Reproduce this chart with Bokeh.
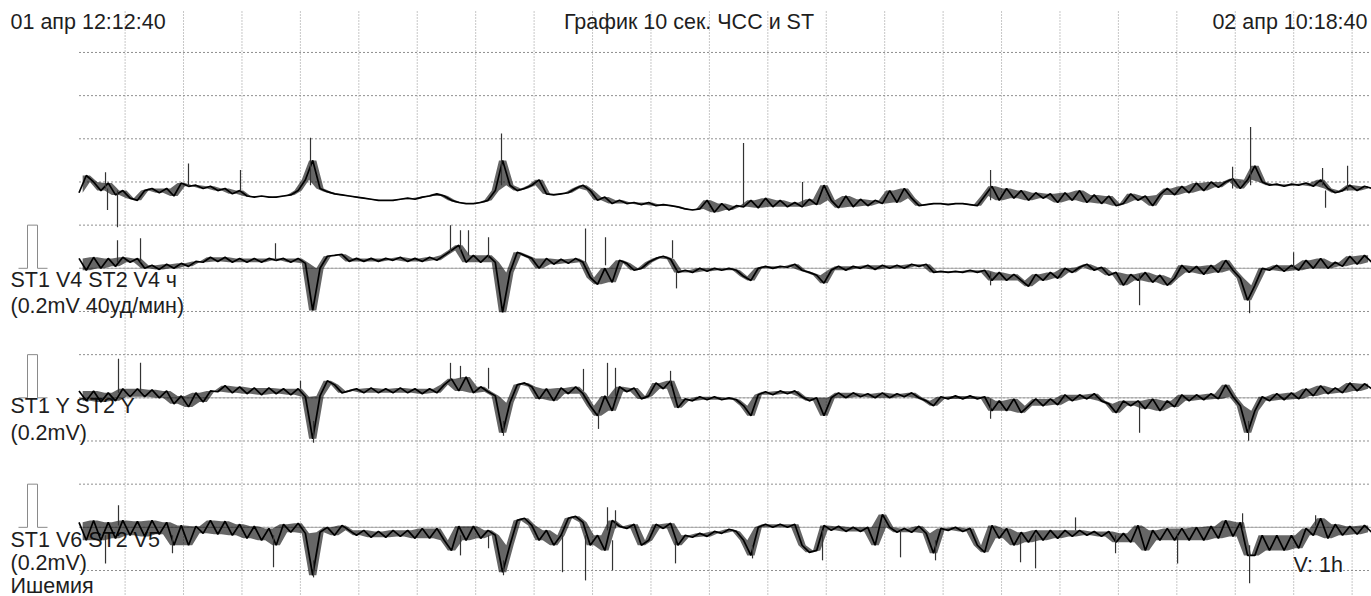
import numpy as np
from bokeh.plotting import figure
from bokeh.models import Range1d
from bokeh.embed import file_html
from bokeh.resources import INLINE
from bokeh.core.properties import value

# ---------------- data ----------------
START_LABEL = "01 апр 12:12:40"
END_LABEL = "02 апр 10:18:40"
TITLE = "График 10 сек. ЧСС и ST"
ROW_LABELS = ["ST1 V4 ST2 V4 ч", "(0.2mV 40уд/мин)", "ST1 Y ST2 Y", "(0.2mV)",
              "ST1 V6 ST2 V5", "(0.2mV)", "Ишемия"]
SCALE_LABEL = "V: 1h"

STEP_H = 0.125                 # one sample every 7.5 min
FIRST_HOUR_MARK_H = 47.333 / 60  # 13:00 measured from 12:12:40
N_HOUR_MARKS = 22
HR_PER_DIV = 40.0              # уд/мин per division
MV_PER_DIV = 0.2               # mV per division
CAL_MV = 0.2

hr_bpm = [
    70, 86, 80, 72, 79, 68, 72, 65, 63, 72,
    74, 70, 74, 67, 79, 76, 77, 74, 76, 72,
    74, 69, 72, 67, 66, 67, 66, 66, 67, 68,
    72, 82, 100, 74, 71, 69, 68, 67, 66, 65,
    64, 63, 63, 63, 64, 65, 64, 66, 67, 69,
    67, 63, 61, 60, 60, 61, 63, 72, 100, 77,
    72, 74, 77, 82, 69, 68, 69, 70, 74, 77,
    72, 63, 66, 60, 63, 60, 61, 59, 61, 58,
    59, 58, 57, 55, 54, 55, 63, 52, 60, 54,
    58, 57, 63, 56, 65, 57, 63, 57, 61, 57,
    64, 59, 77, 63, 56, 67, 57, 64, 58, 63,
    60, 72, 61, 74, 65, 58, 59, 60, 60, 59,
    60, 60, 59, 58, 67, 76, 63, 74, 65, 72,
    63, 70, 65, 69, 61, 70, 63, 72, 61, 68,
    60, 67, 58, 60, 69, 63, 67, 58, 68, 74,
    68, 76, 70, 79, 72, 80, 75, 80, 83, 74,
    82, 95, 80, 77, 78, 76, 78, 77, 79, 76,
    82, 74, 70, 72, 77, 72, 76, 74]

st1_mv = [
    0.046, -0.009, 0.051, 0.0, 0.046, 0.009, 0.051, 0.028, 0.046, 0.0,
    0.014, -0.005, 0.019, 0.0, 0.023, 0.009, 0.032, 0.028, 0.051, 0.032,
    0.051, 0.028, 0.046, 0.028, 0.046, 0.028, 0.046, 0.037, 0.046, 0.028,
    0.046, 0.023, -0.195, 0.0, 0.056, 0.060, 0.065, 0.032, 0.046, 0.032,
    0.046, 0.032, 0.046, 0.037, 0.051, 0.032, 0.046, 0.032, 0.051, 0.037,
    0.060, 0.083, 0.107, 0.028, 0.060, 0.028, 0.060, 0.028, -0.204, -0.019,
    0.074, 0.060, 0.046, 0.0, 0.046, 0.019, 0.042, 0.023, 0.046, 0.028,
    -0.042, -0.074, 0.0, -0.065, 0.037, 0.023, -0.009, 0.0, 0.028, 0.046,
    0.056, 0.042, -0.019, -0.009, -0.019, 0.0, -0.014, 0.0, -0.009, 0.0,
    -0.009, -0.037, -0.056, 0.0, 0.009, 0.0, 0.009, 0.005, 0.019, -0.009,
    -0.019, -0.032, -0.069, -0.009, 0.009, -0.009, 0.009, 0.0, 0.014, -0.005,
    0.014, 0.0, 0.014, 0.0, 0.019, 0.009, 0.019, -0.019, -0.014, -0.019,
    -0.014, -0.019, -0.009, -0.019, -0.009, -0.056, -0.019, -0.056, -0.028, -0.056,
    -0.083, -0.028, -0.056, -0.019, -0.046, 0.0, -0.019, 0.005, 0.019, -0.009,
    0.005, -0.032, -0.019, -0.079, -0.028, -0.056, -0.019, -0.065, -0.032, -0.079,
    -0.046, 0.014, -0.019, 0.009, -0.028, 0.014, -0.019, 0.037, -0.009, -0.046,
    -0.148, -0.079, 0.0, -0.009, 0.014, -0.014, 0.014, -0.009, 0.037, 0.0,
    0.046, 0.0, 0.028, 0.009, 0.056, 0.019, 0.060, 0.028]

st2_mv = [
    0.032, -0.014, 0.032, -0.019, 0.023, -0.014, 0.042, 0.005, 0.042, 0.005,
    0.037, 0.0, 0.032, -0.028, 0.009, -0.042, 0.023, -0.019, 0.032, 0.028,
    0.056, 0.023, 0.051, 0.019, 0.046, 0.014, 0.046, 0.019, 0.042, 0.014,
    0.042, 0.005, -0.190, 0.009, 0.079, 0.060, 0.023, 0.032, 0.042, 0.023,
    0.046, 0.023, 0.042, 0.023, 0.046, 0.023, 0.042, 0.019, 0.042, 0.023,
    0.060, 0.088, 0.032, 0.097, 0.023, 0.051, 0.028, 0.009, -0.162, -0.023,
    0.060, 0.069, 0.051, -0.005, 0.042, -0.014, 0.046, 0.019, 0.051, 0.019,
    -0.037, -0.083, 0.009, -0.060, 0.051, 0.028, 0.046, -0.005, 0.009, 0.069,
    0.042, 0.079, -0.046, -0.005, -0.014, 0.005, -0.009, 0.005, -0.009, 0.0,
    -0.009, -0.037, -0.083, 0.014, 0.028, 0.014, 0.032, 0.019, 0.032, 0.005,
    -0.014, 0.0, -0.083, 0.0, 0.023, 0.0, 0.023, 0.005, 0.019, 0.0,
    0.023, 0.0, 0.019, 0.005, 0.023, 0.0, -0.014, -0.037, 0.005, -0.005,
    0.009, -0.005, 0.009, -0.005, 0.005, -0.060, -0.014, -0.060, -0.005, -0.069,
    -0.037, -0.005, -0.037, -0.005, -0.032, 0.014, -0.014, 0.014, -0.005, 0.019,
    -0.014, -0.028, -0.069, -0.014, -0.037, -0.014, -0.051, -0.005, -0.060, -0.014,
    -0.042, 0.014, -0.014, 0.014, -0.009, 0.019, -0.005, 0.060, 0.005, -0.037,
    -0.162, -0.060, 0.005, -0.014, 0.019, -0.009, 0.023, -0.005, 0.042, 0.009,
    0.056, 0.019, 0.046, 0.023, 0.069, 0.032, 0.065, 0.042]

st3_mv = [
    0.023, -0.060, 0.032, -0.060, 0.023, -0.051, 0.032, -0.037, 0.028, -0.042,
    0.032, -0.032, 0.023, -0.083, 0.009, -0.083, 0.005, -0.028, 0.032, -0.032,
    0.028, -0.037, 0.014, -0.051, 0.005, -0.060, -0.005, -0.083, 0.014, -0.023,
    0.019, -0.028, -0.222, -0.023, 0.0, -0.037, 0.009, -0.014, -0.037, -0.014,
    -0.046, -0.019, -0.046, -0.014, -0.042, -0.014, -0.051, -0.005, -0.051, -0.005,
    -0.060, -0.107, 0.005, -0.060, 0.005, -0.051, -0.014, -0.037, -0.208, -0.083,
    0.032, 0.042, 0.009, -0.060, -0.014, -0.083, -0.037, 0.042, 0.051, 0.023,
    -0.083, -0.037, -0.107, 0.032, 0.005, -0.005, 0.014, -0.083, -0.060, 0.014,
    -0.005, 0.019, -0.083, -0.037, -0.046, -0.028, -0.042, -0.019, -0.028, -0.009,
    -0.019, -0.060, -0.130, 0.0, 0.014, 0.0, 0.014, 0.0, 0.014, -0.083,
    -0.116, -0.107, 0.009, -0.014, 0.005, -0.019, 0.0, -0.019, 0.0, -0.083,
    0.060, 0.0, -0.023, -0.005, -0.023, 0.005, -0.028, -0.120, -0.005, -0.014,
    0.0, -0.019, -0.005, -0.083, -0.116, 0.009, -0.051, -0.005, -0.083, -0.023,
    -0.069, -0.014, -0.060, -0.014, -0.051, -0.014, -0.042, -0.014, -0.037, -0.019,
    -0.042, -0.019, -0.069, -0.028, -0.069, 0.009, -0.107, -0.014, -0.060, -0.005,
    -0.060, -0.005, -0.060, 0.0, -0.060, 0.005, -0.051, 0.032, -0.042, 0.023,
    -0.130, -0.130, -0.037, -0.107, -0.037, -0.107, -0.037, -0.097, -0.005, -0.037,
    0.042, -0.051, 0.014, -0.037, 0.005, -0.032, 0.009, -0.023]

# short spikes (hours since start, value at trace, extreme value)
hr_spike_t = [0.454, 0.488, 0.659, 1.874, 2.764, 3.962, 7.231, 11.373, 12.383,
              15.601, 19.743, 20.051, 21.283, 21.334, 21.711]
hr_spike_base = [74, 74, 72, 76, 72, 77, 77, 58, 58, 63, 74, 77, 77, 72, 72]
hr_spike_tip = [89, 54, 38, 97, 91, 121, 125, 116, 80, 91, 94, 131, 93, 56, 95]

st1_spike_t = [0.659, 1.053, 3.363, 6.358, 6.529, 6.666, 7.009, 8.669, 9.011,
               10.158, 10.226, 15.601, 18.151, 20.034, 20.787]
st1_spike_base = [0.028, 0.028, 0.037, 0.074, 0.083, 0.060, 0.046, 0.028, 0.014,
                  0.046, -0.009, -0.019, -0.028, -0.148, 0.0]
st1_spike_tip = [0.130, 0.139, 0.116, 0.199, 0.176, 0.176, 0.144, 0.185, 0.144,
                 0.130, -0.093, -0.079, -0.171, -0.208, 0.074]

st2_spike_t = [0.676, 1.053, 3.791, 4.014, 6.358, 6.529, 7.009, 7.265, 8.634,
               8.891, 9.045, 9.182, 10.124, 15.601, 18.151, 20.017]
st2_spike_base = [0.023, 0.032, 0.042, -0.107, 0.079, 0.088, 0.042, -0.107, 0.032,
                  -0.060, 0.009, 0.009, 0.056, -0.005, -0.028, -0.107]
st2_spike_tip = [0.181, 0.162, 0.079, -0.208, 0.162, 0.148, 0.139, -0.176, 0.134,
                 -0.144, 0.162, 0.139, 0.125, -0.097, -0.162, -0.199]

st3_spike_t = [0.454, 0.676, 1.600, 3.329, 4.014, 6.529, 7.009, 7.265, 8.275,
               8.669, 9.045, 9.131, 9.182, 10.209, 11.527, 12.725, 14.060,
               14.659, 16.114, 16.371, 17.055, 17.740, 18.802, 19.914, 20.034,
               21.164]
st3_spike_base = [-0.037, 0.009, -0.037, -0.037, -0.153, -0.037, -0.037, -0.153,
                  -0.037, -0.037, -0.014, -0.060, -0.005, -0.060, -0.083, -0.014,
                  -0.014, -0.060, -0.037, -0.037, -0.014, -0.037, -0.037, -0.014,
                  -0.083, 0.009]
st3_spike_tip = [-0.167, 0.102, -0.120, -0.185, -0.232, -0.130, -0.097, -0.222,
                 -0.208, -0.246, 0.093, -0.199, 0.079, -0.167, -0.144, -0.153,
                 -0.139, -0.153, -0.162, -0.190, 0.046, -0.120, -0.167, 0.065,
                 -0.259, 0.056]

# ---------------- layout ----------------
PAGE_OFF = 0        # Bokeh's page template has no body margin
W, H = 1371, 596
X0_PX = 78.5        # page x of the record start
PX_PER_H = 58.43
Y0_PX = 570.0       # page y of the lowest grid line
PX_PER_DIV = 43.17
ROW_BASE_U = [7, 4, 1]   # zero lines of the three ST rows (divisions)
HR_ZERO_U = 7


def tx(px):
    return (px - X0_PX) / PX_PER_H


def uy(py):
    return (Y0_PX - py) / PX_PER_DIV


p = figure(width=W, height=H, output_backend="svg", toolbar_location=None,
           x_range=Range1d(tx(PAGE_OFF), tx(PAGE_OFF + W)),
           y_range=Range1d(uy(PAGE_OFF + H), uy(PAGE_OFF)),
           x_axis_type=None, y_axis_type=None, min_border=0,
           outline_line_color=None, background_fill_color="white",
           border_fill_color="white")
p.xgrid.visible = False
p.ygrid.visible = False

x_end = tx(PAGE_OFF + W) + 1

# vertical hour grid
hours = FIRST_HOUR_MARK_H + np.arange(N_HOUR_MARKS)
p.segment(x0=hours, y0=uy(600), x1=hours, y1=uy(10),
          line_color="#8f8f8f", line_width=1, line_dash="1 2")
# horizontal division grid
divs = np.arange(13)
p.segment(x0=np.zeros(13), y0=divs, x1=np.full(13, x_end), y1=divs,
          line_color="#8f8f8f", line_width=1, line_dash="2 2")
# zero lines of ST rows and calibration pulses
for b in ROW_BASE_U:
    p.line([0, x_end], [b, b], line_color="#a8a8a8", line_width=1)
    cx = [tx(18), tx(27), tx(27), tx(37), tx(37), tx(47)]
    h = CAL_MV / MV_PER_DIV
    cy = [b, b, b + h, b + h, b, b]
    p.line(cx, cy, line_color="#8a8a8a", line_width=1)

# texts (alphabetic baseline lands ~8px low in this renderer)
TEXT_SHIFT = 8
font = value("Liberation Sans")
TXT = dict(text_font=font, text_font_size="21.5px", text_color="#1e1e1e",
           text_baseline="alphabetic")
top_y = uy(29 - TEXT_SHIFT)
p.text(x=[tx(10)], y=[top_y], text=[START_LABEL], text_align="left", **TXT)
p.text(x=[tx(688.5)], y=[top_y], text=[TITLE], text_align="center", **TXT)
p.text(x=[tx(1367)], y=[top_y], text=[END_LABEL], text_align="right", **TXT)
row_label_y = [287, 313, 413, 440, 547, 570, 593]
p.text(x=[tx(10)] * len(ROW_LABELS), y=[uy(v - TEXT_SHIFT) for v in row_label_y],
       text=ROW_LABELS, text_align="left", **TXT)
p.text(x=[tx(1293)], y=[uy(572 - TEXT_SHIFT)], text=[SCALE_LABEL],
       text_align="left", **TXT)


def draw_trace(tt, yy):
    yy = np.asarray(yy)
    # noise band: range spanned by each pair of neighbouring samples
    tm = 0.5 * (tt[:-1] + tt[1:])
    lo = np.minimum(yy[:-1], yy[1:])
    hi = np.maximum(yy[:-1], yy[1:])
    p.varea(x=tm, y1=lo, y2=hi, fill_color="black", fill_alpha=0.6)
    p.line(tt, yy, line_color="black", line_width=1.7)


# traces
t = np.arange(len(hr_bpm)) * STEP_H
draw_trace(t, HR_ZERO_U + np.array(hr_bpm) / HR_PER_DIV)
p.segment(x0=hr_spike_t, y0=HR_ZERO_U + np.array(hr_spike_base) / HR_PER_DIV,
          x1=hr_spike_t, y1=HR_ZERO_U + np.array(hr_spike_tip) / HR_PER_DIV,
          line_color="#333333", line_width=1.2)

for base, vals, st_t, st_b, st_tip in [
        (ROW_BASE_U[0], st1_mv, st1_spike_t, st1_spike_base, st1_spike_tip),
        (ROW_BASE_U[1], st2_mv, st2_spike_t, st2_spike_base, st2_spike_tip),
        (ROW_BASE_U[2], st3_mv, st3_spike_t, st3_spike_base, st3_spike_tip)]:
    tt = np.arange(len(vals)) * STEP_H
    draw_trace(tt, base + np.array(vals) / MV_PER_DIV)
    p.segment(x0=st_t, y0=base + np.array(st_b) / MV_PER_DIV,
              x1=st_t, y1=base + np.array(st_tip) / MV_PER_DIV,
              line_color="#333333", line_width=1.2)

open("out.html", "w").write(file_html(p, INLINE))
